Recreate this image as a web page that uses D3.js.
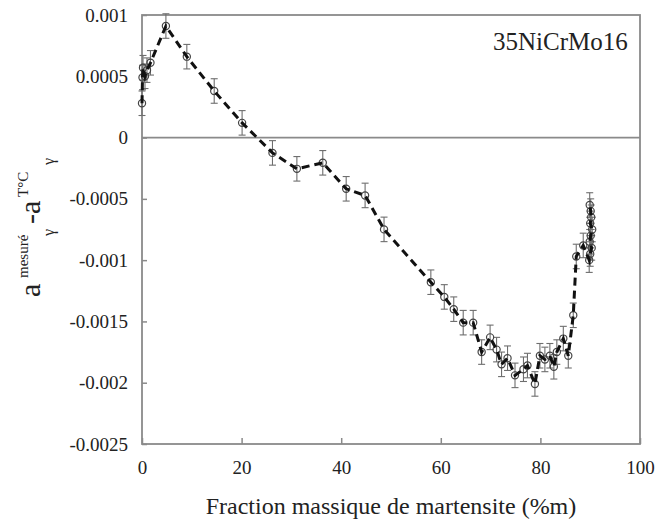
<!DOCTYPE html>
<html>
<head>
<meta charset="utf-8">
<script src="https://cdn.jsdelivr.net/npm/d3@7"></script>
<style>
  html, body { margin: 0; padding: 0; background: #ffffff; }
  svg { display: block; }
</style>
</head>
<body>
<svg id="chart" width="655" height="523"></svg>
<script>
// ---- data ----
const fraction = [0, 0.1, 0.2, 0.6, 1.0, 1.7, 4.8, 9.0, 14.5, 20.1, 26.2, 31.1, 36.3, 41.0, 44.8, 48.6,
  58.0, 60.7, 62.6, 64.5, 66.5, 68.2, 69.9, 71.2, 72.2, 73.4, 74.9, 76.6, 77.4, 78.9, 79.9, 80.9, 81.9,
  82.7, 83.3, 84.6, 85.6, 86.6, 87.2, 88.6, 89.8, 90.0, 90.3, 89.9, 90.1, 90.4, 90.0, 90.2, 90.1, 89.9];
const deltaA = [0.00028, 0.00049, 0.00057, 0.00050, 0.00055, 0.00061, 0.00091, 0.00066, 0.00038, 0.00012,
  -0.000125, -0.000255, -0.000206, -0.000418, -0.000472, -0.000749,
  -0.00118, -0.0013, -0.0014, -0.00151, -0.00151, -0.00175, -0.00163, -0.00173, -0.00185, -0.0018,
  -0.00194, -0.00189, -0.00186, -0.00201, -0.00178, -0.00181, -0.00178, -0.00187, -0.00175, -0.00164,
  -0.00178, -0.00145, -0.00097, -0.00088, -0.0010, -0.00095, -0.0009, -0.00085, -0.0008, -0.00075,
  -0.0007, -0.00065, -0.0006, -0.00055];
const errHalf = 0.0001;
const xTicks = [0, 20, 40, 60, 80, 100];
const yTicks = [-0.0025, -0.002, -0.0015, -0.001, -0.0005, 0, 0.0005, 0.001];
const yTickLabels = ["-0.0025", "-0.002", "-0.0015", "-0.001", "-0.0005", "0", "0.0005", "0.001"];
const xTitle = "Fraction massique de martensite (%m)";
const steelLabel = "35NiCrMo16";

// ---- chart ----
const FONT = '"Liberation Serif", "Times New Roman", Tinos, serif';
const svg = d3.select("#chart");
const x = d3.scaleLinear().domain([0, 100]).range([142, 640]);
const y = d3.scaleLinear().domain([-0.0025, 0.001]).range([444, 15]);
const axisColor = "#8a8a8a";
const pts = fraction.map((f, i) => ({ f, v: deltaA[i] }));

// zero line
svg.append("line")
  .attr("x1", x(0)).attr("x2", x(100))
  .attr("y1", y(0)).attr("y2", y(0))
  .attr("stroke", axisColor).attr("stroke-width", 1.8);

// axes
const gx = svg.append("g").attr("transform", `translate(0,${y(-0.0025)})`)
  .call(d3.axisBottom(x).tickValues(xTicks).tickSizeInner(-6).tickSizeOuter(0).tickPadding(17)
    .tickFormat(d3.format("d")));
const gy = svg.append("g").attr("transform", `translate(${x(0)},0)`)
  .call(d3.axisLeft(y).tickValues(yTicks).tickSizeInner(-5).tickSizeOuter(0).tickPadding(14)
    .tickFormat((d, i) => yTickLabels[i]));
[gx, gy].forEach(g => {
  g.select(".domain").remove();
  g.selectAll(".tick line").attr("stroke", axisColor).attr("stroke-width", 1.5);
  g.selectAll(".tick text").style("font-family", FONT)
    .style("font-size", "19px").attr("fill", "#222");
});

// frame
svg.append("rect")
  .attr("x", x(0)).attr("y", y(0.001))
  .attr("width", x(100) - x(0)).attr("height", y(-0.0025) - y(0.001))
  .attr("fill", "none").attr("stroke", axisColor).attr("stroke-width", 1.8);

// error bars
const eb = svg.append("g").attr("stroke", "#6e6e6e").attr("stroke-width", 1.1);
pts.forEach(p => {
  const cx = x(p.f);
  eb.append("line").attr("x1", cx).attr("x2", cx).attr("y1", y(p.v + errHalf)).attr("y2", y(p.v - errHalf));
  eb.append("line").attr("x1", cx - 3.5).attr("x2", cx + 3.5).attr("y1", y(p.v + errHalf)).attr("y2", y(p.v + errHalf));
  eb.append("line").attr("x1", cx - 3.5).attr("x2", cx + 3.5).attr("y1", y(p.v - errHalf)).attr("y2", y(p.v - errHalf));
});

// markers
svg.append("g").selectAll("circle").data(pts).join("circle")
  .attr("cx", d => x(d.f)).attr("cy", d => y(d.v)).attr("r", 3.6)
  .attr("fill", "none").attr("stroke", "#444").attr("stroke-width", 1.2);

// dashed line
svg.append("path").datum(pts)
  .attr("d", d3.line().x(d => x(d.f)).y(d => y(d.v)))
  .attr("fill", "none").attr("stroke", "#111").attr("stroke-width", 3)
  .attr("stroke-dasharray", "8,5");

function txt(sel, size) {
  return sel.style("font-family", FONT).style("font-size", size + "px").attr("fill", "#222");
}

// steel label
txt(svg.append("text").attr("x", 493).attr("y", 50), 25).text(steelLabel);

// x title
txt(svg.append("text").attr("x", (x(0) + x(100)) / 2).attr("y", 514)
  .attr("text-anchor", "middle"), 24).text(xTitle);

// y title (rotated, with super/subscripts)
const yl = svg.append("g").attr("transform", "translate(40,297) rotate(-90)");
txt(yl.append("text").attr("x", 0).attr("y", 0), 30).text("a");
txt(yl.append("text").attr("x", 19).attr("y", -12), 15).text("mesuré");
txt(yl.append("text").attr("x", 61).attr("y", 14), 16).text("γ");
txt(yl.append("text").attr("x", 73).attr("y", 0), 30).text("-a");
txt(yl.append("text").attr("x", 100).attr("y", -12), 15).text("T°C");
txt(yl.append("text").attr("x", 132).attr("y", 14), 16).text("γ");
</script>
</body>
</html>
